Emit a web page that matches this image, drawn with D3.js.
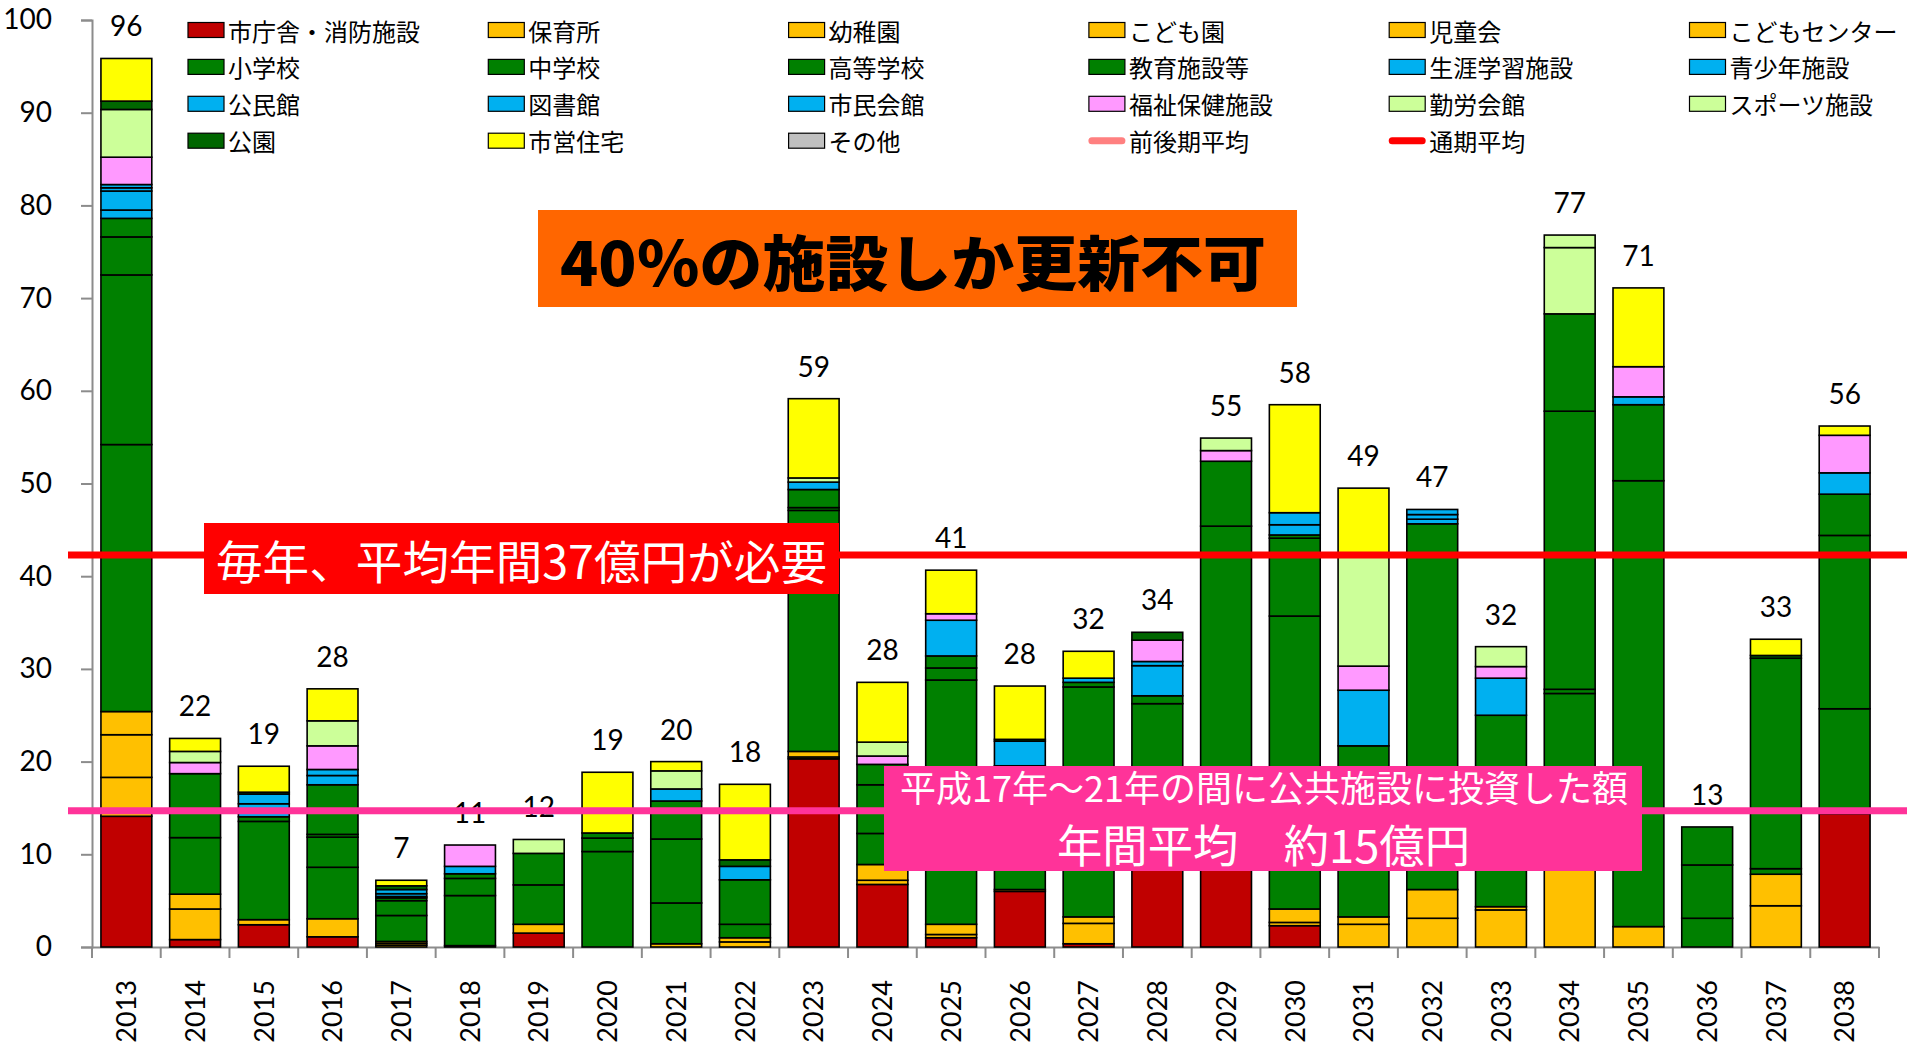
<!DOCTYPE html>
<html>
<head>
<meta charset="utf-8">
<script src="https://cdn.jsdelivr.net/npm/d3@7"></script>
<style>
  body { margin: 0; background: #fff; }
  svg { display: block; }
  .axis text { font-family: Lato, "Noto Sans", sans-serif; fill: #000; }
</style>
</head>
<body>
<svg width="1907" height="1046"></svg>
<script>
// years on the x axis
var years = ["2013","2014","2015","2016","2017","2018","2019","2020","2021","2022","2023","2024","2025",
             "2026","2027","2028","2029","2030","2031","2032","2033","2034","2035","2036","2037","2038"];

// series values (one per year), stacked bottom to top in this order
var cityHall     = [14.1,0.8,2.4,1.1,0,0,1.5,0,0,0,20.3,6.75,1.0,6.0,0.35,12.0,10.0,2.3,0,0,0,0,0,0,0,14.4];
var nursery      = [4.2,3.3,0.55,1.95,0.2,0,0.95,0,0.35,0.55,0.2,0.45,0.35,0.2,2.2,0,0,0.35,2.45,3.1,4.0,10.0,2.2,0,4.45,0];
var kindergarten = [4.6,1.6,0,0,0.2,0.15,0,0,0,0.45,0.6,1.7,1.1,0,0.7,0,0,1.45,0.8,3.1,0.35,0,0,0,3.4,0];
var childGarden  = [2.5,0,0,0,0.2,0,0,0,0,0,0,0,0,0,0,0,0,0,0,0,0,0,0,0,0,0];
var childClub    = [0,0,0,0,0,0,0,0,0,0,0,0,0,0,0,0,0,0,0,0,0,0,0,0,0,0];
var childCenter  = [0,0,0,0,0,0,0,0,0,0,0,0,0,0,0,0,0,0,0,0,0,0,0,0,0,0];
var elementary   = [28.8,6.1,10.6,5.55,2.8,5.4,4.25,10.3,4.4,1.45,26.0,3.35,26.35,7.0,24.8,14.25,35.4,31.6,18.45,39.45,20.65,17.35,48.1,3.1,0.6,11.3];
var juniorHigh   = [18.3,6.9,0.5,3.25,1.6,1.85,3.4,1.45,6.9,4.8,0.3,5.25,1.3,6.35,0.5,0.85,7.0,8.4,0,0,0,0.45,8.2,5.75,22.7,18.7];
var highSchool   = [4.1,0,0,0.3,0.3,0.5,0,0.55,4.1,0,1.95,2.2,1.3,0,0,0,0,0.35,0,0,0,30.0,0,4.1,0,4.45];
var eduOther     = [2.0,0,0,5.35,0,0,0,0,0,0,0,0,0,0,0,0,0,0,0,0,0,10.5,0,0,0,0];
var lifelong     = [0.9,0,1.4,1.0,0.15,0.8,0,0,1.3,1.45,0.8,0,3.85,2.65,0.45,3.25,0,1.1,6.0,0.5,4.0,0,0.85,0,0,2.3];
var youth        = [2.05,0,1.05,0.65,0.3,0,0,0,0,0,0,0,0,0,0,0.45,0,1.3,0,0.5,0,0,0,0,0,0];
var community    = [0.35,0,0,0,0.45,0,0,0,0,0,0,0,0,0,0,0,0,0,0,0.55,0,0,0,0,0,0];
var library      = [0.35,0,0,0,0,0,0,0,0,0,0,0,0,0,0,0,0,0,0,0,0,0,0,0,0,0];
var civicHall    = [0,0,0,0,0,0,0,0,0,0,0,0,0,0,0,0,0,0,0,0,0,0,0,0,0,0];
var welfare      = [2.95,1.2,0,2.55,0,2.3,0,0,0,0,0,0.9,0.7,0,0,2.3,1.15,0,2.6,0,1.25,0,3.25,0,0,4.05];
var laborHall    = [0,0,0,0,0,0,0,0,0,0,0,0,0,0,0,0,0,0,0,0,0,7.15,0,0,0,0];
var sports       = [5.15,1.2,0,2.7,0,0,1.5,0,1.95,0,0.45,1.5,0,0,0,0,1.35,0,11.9,0,2.15,1.35,0,0,0,0];
var park         = [0.9,0,0.2,0,0.4,0,0,0,0,0.7,0,0,0,0.2,0,0.85,0,0,0,0,0,0,0,0,0.3,0];
var housing      = [4.6,1.4,2.8,3.45,0.6,0,0,6.55,1.0,8.15,8.55,6.45,4.7,5.75,2.9,0,0,11.65,7.3,0,0,0,8.5,0,1.75,1.0];
var others       = [0,0,0,0,0,0,0,0,0,0,0,0,0,0,0,0,0,0,0,0,0,0,0,0,0,0];

var seriesNames = ["市庁舎・消防施設","保育所","幼稚園","こども園","児童会","こどもセンター",
                   "小学校","中学校","高等学校","教育施設等","生涯学習施設","青少年施設",
                   "公民館","図書館","市民会館","福祉保健施設","勤労会館","スポーツ施設",
                   "公園","市営住宅","その他"];
var seriesValues = [cityHall, nursery, kindergarten, childGarden, childClub, childCenter,
                    elementary, juniorHigh, highSchool, eduOther, lifelong, youth,
                    community, library, civicHall, welfare, laborHall, sports,
                    park, housing, others];
var seriesColors = ["#C00000","#FFC000","#FFC000","#FFC000","#FFC000","#FFC000",
                    "#008000","#008000","#008000","#008000","#00B0F0","#00B0F0",
                    "#00B0F0","#00B0F0","#00B0F0","#FF99FF","#CCFF99","#CCFF99",
                    "#006600","#FFFF00","#C0C0C0"];

// total labels shown above the bars
var totalLabels = [96,22,19,28,7,11,12,19,20,18,59,28,41,28,32,34,55,58,49,47,32,77,71,13,33,56];

// reference lines
var fullPeriodAvg = 42.3;   // 通期平均 line
var pastInvestAvg = 14.7;   // 平成17年～21年 investment line
var lineNames = ["前後期平均","通期平均"];
var lineColors = ["#FF8080","#FF0000"];

var svg = d3.select("svg");
var jp = '"Noto Sans CJK JP", sans-serif';

var x = d3.scaleBand()
    .domain(years)
    .range([92, 1879])
    .paddingInner(0.26)
    .paddingOuter(0.13);

var y = d3.scaleLinear()
    .domain([0, 100])
    .range([947, 20]);

// table for the stack
var table = years.map(function(yr, i) {
  var row = {year: yr};
  seriesNames.forEach(function(n, k) { row[n] = seriesValues[k][i]; });
  return row;
});
var stacked = d3.stack().keys(seriesNames)(table);

// y axis
var yAxis = svg.append("g")
    .attr("class", "axis")
    .attr("transform", "translate(92,0)")
    .call(d3.axisLeft(y).tickValues(d3.range(0, 101, 10)).tickSize(11).tickPadding(29));
yAxis.selectAll("text").style("font-size", "28px");
yAxis.select(".domain").attr("stroke", "#8c8c8c").attr("stroke-width", 2);
yAxis.selectAll(".tick line").attr("stroke", "#8c8c8c").attr("stroke-width", 2);

// x axis: labels at centres, ticks at band edges
var xAxis = svg.append("g")
    .attr("class", "axis")
    .attr("transform", "translate(0," + y(0) + ")")
    .call(d3.axisBottom(x).tickSize(0).tickSizeOuter(0));
xAxis.select(".domain").attr("stroke", "#8c8c8c").attr("stroke-width", 2);
xAxis.selectAll("text")
    .style("font-size", "27px")
    .attr("transform", "rotate(-90)")
    .attr("x", -33)
    .attr("y", 0)
    .attr("dy", "0.36em")
    .attr("text-anchor", "end");
xAxis.selectAll(".edge")
    .data(d3.range(years.length + 1))
  .enter().append("line")
    .attr("x1", function(i) { return x.range()[0] + i * x.step(); })
    .attr("x2", function(i) { return x.range()[0] + i * x.step(); })
    .attr("y1", 0)
    .attr("y2", 11)
    .attr("stroke", "#8c8c8c")
    .attr("stroke-width", 2);

// stacked bars
svg.append("g")
  .selectAll("g")
  .data(stacked)
  .enter().append("g")
    .attr("fill", function(d, k) { return seriesColors[k]; })
  .selectAll("rect")
  .data(function(d) { return d.filter(function(s) { return s[1] - s[0] > 0; }); })
  .enter().append("rect")
    .attr("x", function(s) { return x(s.data.year); })
    .attr("width", x.bandwidth())
    .attr("y", function(s) { return y(s[1]); })
    .attr("height", function(s) { return y(s[0]) - y(s[1]); })
    .attr("stroke", "#000")
    .attr("stroke-width", 1.6);

// totals above bars
var tops = stacked[stacked.length - 1];
svg.append("g")
  .selectAll("text")
  .data(tops)
  .enter().append("text")
    .attr("x", function(s) { return x(s.data.year) + x.bandwidth() / 2; })
    .attr("y", function(s) { return y(s[1]) - 22; })
    .attr("text-anchor", "middle")
    .style("font-family", "Lato, sans-serif")
    .style("font-size", "28px")
    .text(function(s, i) { return totalLabels[i]; });

// horizontal reference lines
svg.append("line")
    .attr("x1", 68).attr("x2", 1907)
    .attr("y1", y(fullPeriodAvg)).attr("y2", y(fullPeriodAvg))
    .attr("stroke", "#FF0000").attr("stroke-width", 7);
svg.append("line")
    .attr("x1", 68).attr("x2", 1907)
    .attr("y1", y(pastInvestAvg)).attr("y2", y(pastInvestAvg))
    .attr("stroke", "#FF3399").attr("stroke-width", 7);

// red callout
svg.append("rect")
    .attr("x", 204).attr("y", 523).attr("width", 635).attr("height", 71)
    .attr("fill", "#FF0000");
svg.append("text")
    .attr("x", 216).attr("y", 559)
    .attr("dominant-baseline", "central")
    .attr("textLength", 611).attr("lengthAdjust", "spacingAndGlyphs")
    .style("font-family", jp).style("font-size", "46px").attr("fill", "#fff")
    .text("毎年、平均年間37億円が必要");

// pink callout
svg.append("rect")
    .attr("x", 884).attr("y", 766).attr("width", 758).attr("height", 105)
    .attr("fill", "#FF3399");
svg.append("text")
    .attr("x", 900).attr("y", 786)
    .attr("dominant-baseline", "central")
    .attr("textLength", 728).attr("lengthAdjust", "spacingAndGlyphs")
    .style("font-family", jp).style("font-size", "36px").attr("fill", "#fff")
    .text("平成17年～21年の間に公共施設に投資した額");
svg.append("text")
    .attr("x", 1057).attr("y", 843)
    .attr("dominant-baseline", "central")
    .attr("textLength", 413).attr("lengthAdjust", "spacingAndGlyphs")
    .style("font-family", jp).style("font-size", "45px").attr("fill", "#fff")
    .text("年間平均　約15億円");

// title box
svg.append("rect")
    .attr("x", 538).attr("y", 210).attr("width", 759).attr("height", 97)
    .attr("fill", "#FF6600");
svg.append("text")
    .attr("x", 560).attr("y", 259)
    .attr("dominant-baseline", "central")
    .attr("textLength", 706).attr("lengthAdjust", "spacingAndGlyphs")
    .style("font-family", jp).style("font-size", "60px").style("font-weight", 900)
    .attr("fill", "#000")
    .text("40％の施設しか更新不可");

// legend
var legendItems = seriesNames.map(function(n, k) { return {name: n, color: seriesColors[k], line: false}; })
    .concat(lineNames.map(function(n, k) { return {name: n, color: lineColors[k], line: true}; }));

var legend = svg.append("g")
  .selectAll("g")
  .data(legendItems)
  .enter().append("g")
    .attr("transform", function(d, i) {
      return "translate(" + (188 + (i % 6) * 300.3) + "," + (30 + Math.floor(i / 6) * 36.9) + ")";
    });

legend.filter(function(d) { return !d.line; }).append("rect")
    .attr("x", 0).attr("y", -7.5).attr("width", 36).attr("height", 15)
    .attr("fill", function(d) { return d.color; })
    .attr("stroke", "#000").attr("stroke-width", 1.2);

legend.filter(function(d) { return d.line; }).append("line")
    .attr("x1", 3).attr("x2", 33).attr("y1", 0).attr("y2", 0)
    .attr("stroke", function(d) { return d.color; })
    .attr("stroke-width", 7).attr("stroke-linecap", "round");

legend.append("text")
    .attr("x", 40).attr("y", 0)
    .attr("dominant-baseline", "central")
    .style("font-family", jp).style("font-size", "24px")
    .text(function(d) { return d.name; });
</script>
</body>
</html>
